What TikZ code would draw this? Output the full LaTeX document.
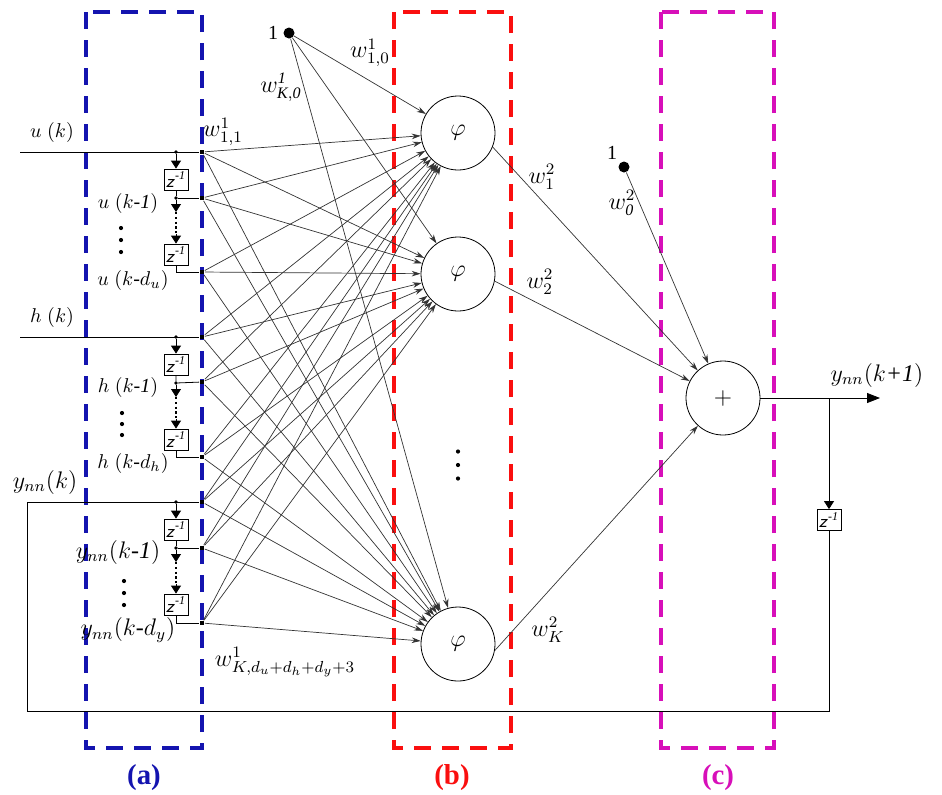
\documentclass[tikz,border=0pt]{standalone}
\usepackage{amsmath}
\usepackage{fontspec}
\setmainfont{Liberation Serif}
\usetikzlibrary{arrows.meta,positioning}

\definecolor{layerA}{RGB}{20,20,175}
\definecolor{layerB}{RGB}{250,15,15}
\definecolor{layerC}{RGB}{215,15,185}
\newcommand{\zinv}{\textsf{\textit{z}}\textsuperscript{\textit{-1}}}

\begin{document}
\begin{tikzpicture}[x=0.5pt, y=-0.5pt,
    neuron/.style={circle, draw, line width=0.4pt, minimum size=37pt, inner sep=0pt, font=\large},
    zbox/.style={rectangle, draw, line width=0.4pt, minimum width=12pt, minimum height=10.5pt, inner sep=0pt, font=\small},
    tap/.style={rectangle, fill, minimum size=2.4pt, inner sep=0pt},
    jdot/.style={circle, fill, minimum size=1.8pt, inner sep=0pt},
    bias/.style={circle, fill, minimum size=5.5pt, inner sep=0pt},
    layer box/.style={line width=1.8pt, dash pattern=on 8.5pt off 5.5pt},
    conn/.style={draw=black!80, line width=0.35pt, -{Stealth[length=4.5pt,width=2.8pt]}},
    dly arrow/.style={line width=0.4pt, -{Triangle[length=4pt,width=5pt]}},
    out arrow/.style={line width=0.4pt, -{Triangle[length=6.5pt,width=5pt]}},
    wlabel/.style={font=\large, inner sep=1pt}
]
    \useasboundingbox (0,0) rectangle (942,794);

    % Dashed layer boxes with their captions
    \draw[layer box, layerA] (86,12) rectangle (202,748);
    \draw[layer box, layerB] (394,12) rectangle (511,748);
    \draw[layer box, layerC] (661,12) rectangle (774,748);
    \node[font=\Large\bfseries, text=layerA] (capa) at (144,778) {(a)};
    \node[font=\Large\bfseries, text=layerB] (capb) at (452,778) {(b)};
    \node[font=\Large\bfseries, text=layerC] (capc) at (718,778) {(c)};

    % Input taps on the first layer
    \node[tap] (in1) at (202,152) {};
    \node[tap] (in2) at (202,198) {};
    \node[tap] (in3) at (202,272) {};
    \node[tap] (in4) at (202,337) {};
    \node[tap] (in5) at (202,382) {};
    \node[tap] (in6) at (202,457) {};
    \node[tap] (in7) at (202,502) {};
    \node[tap] (in8) at (202,548) {};
    \node[tap] (in9) at (202,623) {};

    % Hidden neurons and output sum
    \node[neuron] (n1) at (458,133) {$\varphi$};
    \node[neuron] (n2) at (458,274) {$\varphi$};
    \node[neuron] (nK) at (458,644) {$\varphi$};
    \node[neuron] (sum) at (723,398) {$+$};

    % Bias inputs
    \node[bias] (b1) at (289,33) {};
    \node (b1lab) at (273,33) {1};
    \node[bias] (b2) at (624,167) {};
    \node (b2lab) at (612,153) {1};

    % External inputs
    \coordinate (uin) at (20,152);
    \coordinate (hin) at (20,337);
    \draw[line width=0.4pt] (uin) -- (in1);
    \draw[line width=0.4pt] (hin) -- (in4);

    % Tapped delay lines
    \foreach \g/\T/\b/\c in {u/152/2/3, h/337/5/6, y/502/8/9} {
        \node[jdot] (s\g) at (176,\T) {};
        \node[zbox] (za\g) at (176,\T+27.5) {\zinv};
        \node[jdot] (j\g) at (176,\T+46) {};
        \coordinate (ma\g) at (176,\T+60);
        \coordinate (mb\g) at (176,\T+82);
        \node[zbox] (zb\g) at (176,\T+102.5) {\zinv};
        \draw[dly arrow] (s\g) -- (za\g);
        \draw[line width=0.4pt] (za\g) -- (j\g) -- (in\b);
        \draw[dly arrow] (j\g) -- (ma\g);
        \draw[line width=1pt, dash pattern=on 1.1pt off 1.3pt] (ma\g) -- (mb\g);
        \draw[dly arrow] (mb\g) -- (zb\g);
        \draw[line width=0.4pt] (zb\g) |- (in\c);
    }

    % Input labels
    \node (lu0) at (52,132) {$u\;(k)$};
    \node (lu1) at (128,203) {$u\;(k\textit{-1})$};
    \node (lu2) at (133,280) {$u\;(k\textit{-}d_u)$};
    \node (lh0) at (52,317) {$h\;(k)$};
    \node (lh1) at (128,387) {$h\;(k\textit{-1})$};
    \node (lh2) at (133,463) {$h\;(k\textit{-}d_h)$};
    \node[font=\large] (ly0) at (45,482) {$y_{nn}(k)$};
    \node[font=\large] (ly1) at (118,552) {$y_{nn}(k\textit{-1})$};
    \node[font=\large] (ly2) at (128,630) {$y_{nn}(k\textit{-}d_y)$};
    \node[font=\large] (lyout) at (877,375) {$y_{nn}(k\textit{+1})$};

    % Vertical ellipses
    \foreach \x/\y/\d in {121/240/12, 122/424/11, 124/593/12, 458/465/13.5}
        \foreach \k in {-1,0,1}
            \fill (\x,\y+\k*\d) circle (2.1);

    % Fully connected first layer
    \foreach \i in {1,...,9}
        \foreach \n in {n1,n2,nK}
            \draw[conn] (in\i) -- (\n);
    \foreach \n in {n1,n2,nK}
        \draw[conn] (b1) -- (\n);

    % Second layer
    \draw[conn] (n1.-22) -- (sum);
    \draw[conn] (n2.-11) -- (sum);
    \draw[conn] (nK.-10) -- (sum);
    \draw[conn] (b2) -- (sum);

    % Weight labels
    \node[wlabel] (w11) at (223,132) {$w^1_{1,1}$};
    \node[wlabel] (w10) at (370,53) {$w^1_{1,0}$};
    \node[wlabel] (wK0) at (281,87) {$w^{\mathit{1}}_{\mathit{K,0}}$};
    \node[wlabel] (wKn) at (285,662) {$w^1_{K,d_u+d_h+d_y+3}$};
    \node[wlabel] (w21) at (542,177) {$w^2_1$};
    \node[wlabel] (w22) at (540,282) {$w^2_2$};
    \node[wlabel] (w2K) at (548,630) {$w^2_K$};
    \node[wlabel] (w20) at (622,203) {$w^2_{\mathit{0}}$};

    % Output and feedback loop
    \coordinate (split) at (829,398);
    \coordinate (yout) at (880,398);
    \node[zbox] (zfb) at (829,520) {\zinv};
    \coordinate (fbR) at (829,711);
    \coordinate (fbL) at (27,711);
    \coordinate (fbT) at (27,502);
    \draw[out arrow] (sum) -- (yout);
    \draw[dly arrow] (split) -- (zfb);
    \draw[line width=0.4pt] (zfb) -- (fbR) -- (fbL) -- (fbT) -- (in7);
\end{tikzpicture}
\end{document}
